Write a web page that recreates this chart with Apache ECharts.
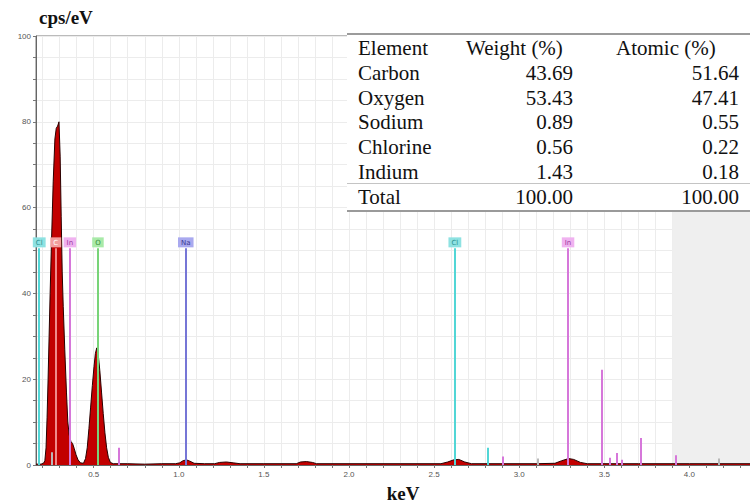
<!DOCTYPE html>
<html>
<head>
<meta charset="utf-8">
<script src="https://cdn.jsdelivr.net/npm/echarts@6/dist/echarts.min.js"></script>
<style>
  html, body { margin: 0; padding: 0; background: #fff; }
  #chart { width: 750px; height: 503px; }
</style>
</head>
<body>
<div id="chart"></div>
<script>
// spectrum (keV, cps/eV)
const specKeV = [0.161, 0.190, 0.205, 0.213, 0.220, 0.226, 0.232, 0.238, 0.244, 0.252, 0.262, 0.272, 0.280, 0.288, 0.296,
  0.303, 0.309, 0.315, 0.321, 0.330, 0.340, 0.348, 0.356, 0.366, 0.376, 0.386, 0.396, 0.408, 0.422, 0.440,
  0.452, 0.462, 0.472, 0.482, 0.492, 0.502, 0.510, 0.518, 0.526, 0.536, 0.546, 0.556, 0.566, 0.576, 0.586, 0.598, 0.615,
  0.700, 0.800, 0.900, 0.980, 1.005, 1.025, 1.045, 1.065, 1.090, 1.150, 1.210, 1.240, 1.280, 1.320, 1.360, 1.500,
  1.690, 1.715, 1.750, 1.785, 1.810, 2.000, 2.300, 2.540, 2.580, 2.615, 2.645, 2.680, 2.720, 2.900, 3.100,
  3.210, 3.250, 3.290, 3.320, 3.360, 3.400, 3.700, 4.000, 4.356];
const specCps = [0.2, 0.2, 0.4, 1, 4, 11, 20, 30, 40, 52, 66, 76, 78.5, 79, 80,
  72, 58, 45, 37, 27, 17, 10, 7, 5.5, 5, 3.8, 2.4, 1.2, 0.5, 0.4,
  1.5, 4, 8.5, 13.5, 18.5, 23, 26, 27.3, 26, 22, 17, 12, 7.5, 4, 1.8, 0.6, 0.3,
  0.3, 0.2, 0.3, 0.3, 0.5, 1.0, 1.2, 0.9, 0.4, 0.3, 0.3, 0.6, 0.7, 0.5, 0.3, 0.3,
  0.3, 0.7, 0.8, 0.6, 0.3, 0.3, 0.3, 0.3, 0.7, 1.2, 1.3, 0.7, 0.3, 0.3, 0.3,
  0.4, 1.0, 1.5, 1.3, 0.6, 0.3, 0.3, 0.3, 0.3];

// labelled element lines
const markerEl = ['Cl', 'C', 'In', 'O', 'Na', 'Cl', 'In'];
const markerKeV = [0.180, 0.277, 0.360, 0.525, 1.041, 2.622, 3.287];
const markerTop = 50.5;

// unlabelled short lines
const minorEl = ['-', 'In', 'Cl', 'Cl', 'In', 'In', 'In', 'In', 'In', 'In', 'In', 'In', '-', '-'];
const minorKeV = [0.255, 0.649, 2.622, 2.815, 2.904, 3.287, 3.487, 3.530, 3.575, 3.605, 3.713, 3.920, 3.110, 4.170];
const minorCps = [3, 4, 25, 4, 2, 5.5, 22.2, 1.7, 2.8, 1.2, 6.3, 2.3, 1.5, 1.5];

// shaded range at the right
const shadeFrom = 3.898;

// quantification table
const tableHead = ['Element', 'Weight (%)', 'Atomic (%)'];
const tableEl = ['Carbon', 'Oxygen', 'Sodium', 'Chlorine', 'Indium', 'Total'];
const tableWeight = ['43.69', '53.43', '0.89', '0.56', '1.43', '100.00'];
const tableAtomic = ['51.64', '47.41', '0.55', '0.22', '0.18', '100.00'];

const xLabels = [0.5, 1.0, 1.5, 2.0, 2.5, 3.0, 3.5, 4.0];
const xTicks = [];
for (let k = 2; k <= 43; k++) xTicks.push(k / 10);

const elColor = {
  Cl: { line: '#52d6d6', box: '#8ee2e2', text: '#2b8f8f' },
  C:  { line: '#f08a8a', box: '#f29d9d', text: '#ffffff' },
  In: { line: '#d677da', box: '#f0b2f0', text: '#9a3aa0' },
  O:  { line: '#78d478', box: '#a8eaa8', text: '#3a8a3a' },
  Na: { line: '#7676d6', box: '#a9a9ef', text: '#3a3a92' },
  '-': { line: '#b8b8b8', box: '#ddd', text: '#666' }
};

const serif = '"Liberation Serif", "Times New Roman", serif';

const markLines = markerEl.map((el, i) => [
  {
    coord: [markerKeV[i], 0],
    lineStyle: { color: elColor[el].line, width: 2, type: 'solid' },
    label: {
      show: true, position: 'end', distance: 1, formatter: el,
      backgroundColor: elColor[el].box, color: elColor[el].text,
      fontSize: 7, fontFamily: 'DejaVu Sans', padding: [2, 3, 1, 3]
    }
  },
  { coord: [markerKeV[i], markerTop] }
]).concat(minorEl.map((el, i) => [
  {
    coord: [minorKeV[i], 0],
    lineStyle: { color: elColor[el].line, width: 2, type: 'solid' },
    label: { show: false }
  },
  { coord: [minorKeV[i], minorCps[i]] }
]));

// table graphics, kept above the plot
const tbl = [];
tbl.push({ type: 'rect', z: 100, shape: { x: 347, y: 34, width: 403, height: 177 }, style: { fill: '#fff' } });
tbl.push({ type: 'line', z: 101, shape: { x1: 347, y1: 34, x2: 750, y2: 34 }, style: { stroke: '#7a7a7a', lineWidth: 1.5 } });
tbl.push({ type: 'line', z: 101, shape: { x1: 347, y1: 183.5, x2: 750, y2: 183.5 }, style: { stroke: '#c4c4c4', lineWidth: 1 } });
tbl.push({ type: 'line', z: 101, shape: { x1: 347, y1: 211, x2: 750, y2: 211 }, style: { stroke: '#9a9a9a', lineWidth: 2 } });
const headX = [358, 466, 616];
tableHead.forEach((t, i) => {
  tbl.push({ type: 'text', z: 102, x: headX[i], y: 48,
    style: { text: t, font: '21px ' + serif, fill: '#111', align: 'left', verticalAlign: 'middle' } });
});
const rowY = [73, 98, 122, 147, 172, 197];
tableEl.forEach((t, i) => {
  tbl.push({ type: 'text', z: 102, x: 358, y: rowY[i],
    style: { text: t, font: '21px ' + serif, fill: '#111', align: 'left', verticalAlign: 'middle' } });
  tbl.push({ type: 'text', z: 102, x: 573, y: rowY[i],
    style: { text: tableWeight[i], font: '21px ' + serif, fill: '#111', align: 'right', verticalAlign: 'middle' } });
  tbl.push({ type: 'text', z: 102, x: 739, y: rowY[i],
    style: { text: tableAtomic[i], font: '21px ' + serif, fill: '#111', align: 'right', verticalAlign: 'middle' } });
});

const chart = echarts.init(document.getElementById('chart'), null, { renderer: 'svg' });
chart.setOption({
  animation: false,
  backgroundColor: '#fff',
  title: {
    text: 'cps/eV', left: 34, top: 3,
    textStyle: { fontFamily: serif, fontWeight: 'bold', fontSize: 19, color: '#111' }
  },
  grid: {
    left: 36, right: 0, top: 36, bottom: 38, outerBoundsMode: 'none',
    show: true, borderColor: '#777', borderWidth: 1
  },
  xAxis: {
    type: 'value', min: 0.161, max: 4.356,
    name: 'keV', nameLocation: 'middle', nameGap: 19,
    nameTextStyle: { fontFamily: serif, fontWeight: 'bold', fontSize: 19, color: '#111', padding: [0, 0, 0, 20] },
    axisLine: { lineStyle: { color: '#666' } },
    axisTick: { customValues: xTicks, length: 3, lineStyle: { color: '#777' } },
    axisLabel: { customValues: xLabels, formatter: v => v.toFixed(1), fontSize: 8, color: '#555', margin: 5 },
    splitLine: { lineStyle: { color: '#ececec' } }
  },
  yAxis: {
    type: 'value', min: 0, max: 100, interval: 5,
    axisLine: { show: true, lineStyle: { color: '#666' } },
    axisTick: { show: true, length: 3, lineStyle: { color: '#777' } },
    axisLabel: { formatter: v => (v % 20 === 0 ? String(v) : ''), fontSize: 8, color: '#555', margin: 5 },
    splitLine: { lineStyle: { color: '#ececec' } }
  },
  series: [
    {
      type: 'line',
      data: specKeV.map((k, i) => [k, specCps[i]]),
      showSymbol: false,
      lineStyle: { color: '#2a0000', width: 1 },
      areaStyle: { color: '#c20000', opacity: 1 },
      z: 2,
      markArea: {
        silent: true,
        itemStyle: { color: '#efefef' },
        data: [[{ xAxis: shadeFrom }, { xAxis: 4.356 }]]
      }
    },
    {
      type: 'line',
      data: [],
      z: 3,
      markLine: {
        silent: true,
        symbol: ['none', 'none'],
        data: markLines
      }
    }
  ],
  graphic: tbl
});
</script>
</body>
</html>
